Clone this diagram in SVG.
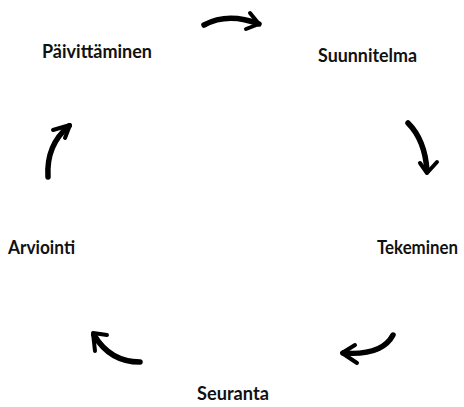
<svg xmlns="http://www.w3.org/2000/svg" width="464" height="407" viewBox="0 0 464 407">
<style>
.lbl{font-family:"Lato","Liberation Sans",sans-serif;font-size:18px;font-weight:bold;fill:#111}
.shaft{fill:none;stroke:#000;stroke-width:5.5;stroke-linecap:round;stroke-linejoin:round}
.head{fill:none;stroke:#000;stroke-width:4;stroke-linecap:round;stroke-linejoin:round}
</style>
<rect width="464" height="407" fill="#fff"/>
<g id="node-paivittaminen"><text class="lbl" x="42" y="58" textLength="110" lengthAdjust="spacingAndGlyphs">Päivittäminen</text></g>
<g id="node-suunnitelma"><text class="lbl" x="318" y="62" textLength="99" lengthAdjust="spacingAndGlyphs">Suunnitelma</text></g>
<g id="node-tekeminen"><text class="lbl" x="377" y="254" textLength="81" lengthAdjust="spacingAndGlyphs">Tekeminen</text></g>
<g id="node-arviointi"><text class="lbl" x="8" y="254" textLength="67" lengthAdjust="spacingAndGlyphs">Arviointi</text></g>
<g id="node-seuranta"><text class="lbl" x="197" y="400" textLength="72" lengthAdjust="spacingAndGlyphs">Seuranta</text></g>
<g id="connectors">
<path class="shaft" d="M204,25 Q228,12 259,24"/>
<path class="head" d="M250,13 L259,24 L246,29"/>
<path class="shaft" d="M408,123 Q425,140 427,171"/>
<path class="head" d="M420,163 L427,173 L437,162"/>
<path class="shaft" d="M393,335 Q382,356 343,353"/>
<path class="head" d="M355,345 L342,353 L357,363"/>
<path class="shaft" d="M140,362 Q110,362 94,335"/>
<path class="head" d="M107,335 L93,333 L95,351"/>
<path class="shaft" d="M48,177 Q46,145 69,126"/>
<path class="head" d="M53,130 L70,125 L65,138"/>
</g>
</svg>
